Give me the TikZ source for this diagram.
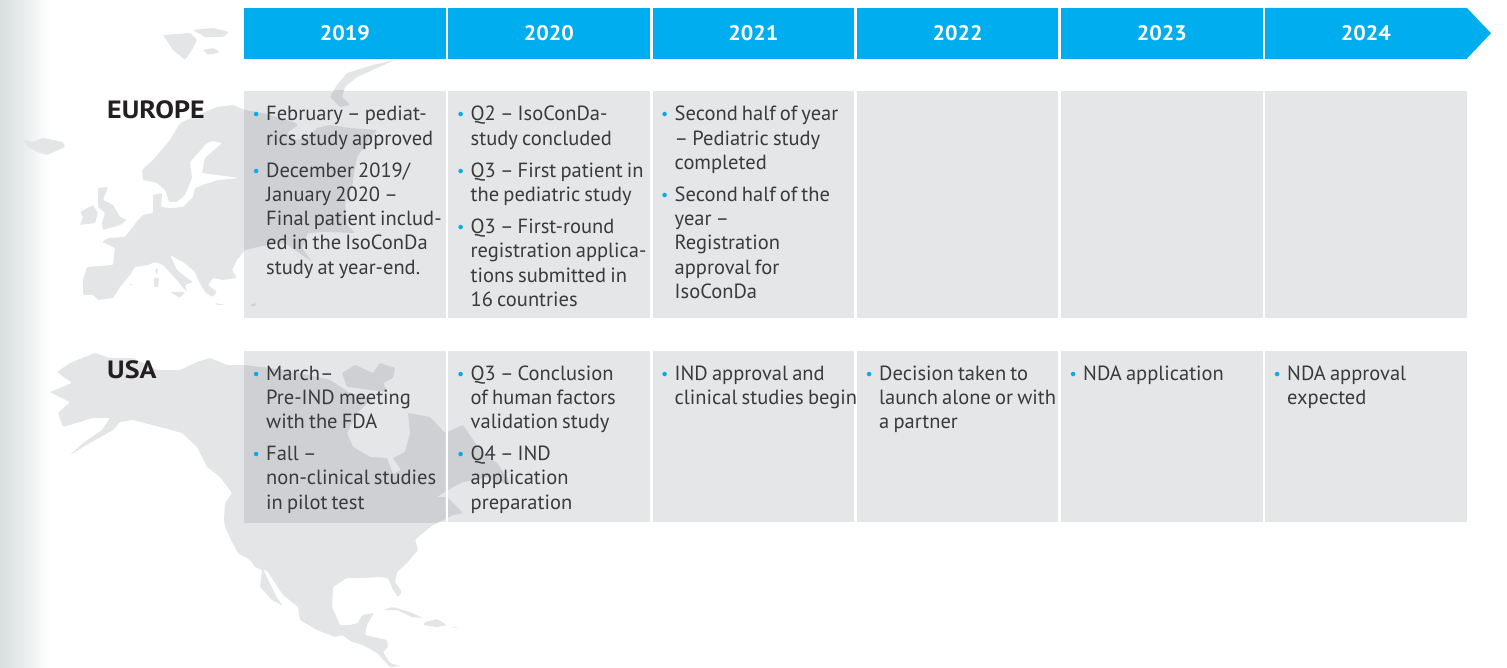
\documentclass[tikz,border=0pt]{standalone}
\usepackage{fontspec}
\setmainfont{PT Sans}[WordSpace=0.76]
\newfontfamily\regfont{PT Sans}[FakeStretch=1.12]
\newfontfamily\yearfont{PT Sans}[FakeStretch=1.05]
\definecolor{tblue}{HTML}{00AEEF}
\definecolor{cellg}{HTML}{E5E6E8}
\definecolor{mapg}{HTML}{E4E5E7}
\definecolor{mapd}{HTML}{CFD0D3}
\definecolor{ink}{HTML}{3A3A3C}
\definecolor{headk}{HTML}{231F20}
\definecolor{edgeg}{HTML}{D8DDDD}
\newcommand{\eumap}{
(143,215)--(153,213)--(153,195)--(162,193)--(161,207)--(170,208)--(183,207)--(193,197)--(195,188)--(203,185)--(218,180)--(240,178)--(217,175)--(202,173)--(205,158)--(222,143)--(213,141)--(207,143)--(190,162)--(192,178)--(185,195)--(177,202)--(169,202)--(165,190)--(157,183)--(143,180)--(142,170)--(153,160)--(170,140)--(180,123)--(198,115)--(217,107)--(233,105)--(245,110)--(263,113)--(280,118)--(293,122)--(298,125)--(287,133)--(295,140)--(307,138)--(317,128)--(330,125)--(350,128)--(377,130)--(367,143)--(357,157)--(353,180)--(352,187)--(345,203)--(347,225)--(355,233)--(327,232)--(308,233)--(302,248)--(312,262)--(295,250)--(285,243)--(262,246)--(245,250)--(237,260)--(232,270)--(237,278)--(223,280)--(213,278)--(208,285)--(217,292)--(212,297)--(205,292)--(198,280)--(195,272)--(183,262)--(170,255)--(177,270)--(187,278)--(193,282)--(185,285)--(187,292)--(183,288)--(177,280)--(163,265)--(155,262)--(148,265)--(135,267)--(130,275)--(120,287)--(113,298)--(98,300)--(93,295)--(83,295)--(83,280)--(87,267)--(113,265)--(115,248)--(102,242)--(108,238)--(125,237)--(138,220)--cycle
(23,140)--(33,142)--(43,138)--(63,142)--(65,147)--(47,155)--(37,152)--(28,147)--cycle
(163,35)--(190,33)--(197,40)--(192,50)--(185,60)--(173,50)--cycle
(193,30)--(213,28)--(229,32)--(223,37)--(205,37)--cycle
(203,50)--(213,48)--(220,52)--(208,55)--cycle
(98,188)--(108,187)--(103,200)--(113,205)--(120,217)--(127,220)--(120,225)--(103,230)--(102,223)--(105,213)--(98,207)--cycle
(80,212)--(93,205)--(98,213)--(95,223)--(80,225)--(83,217)--cycle
(155,270)--(158,268)--(157,275)--cycle
(154,278)--(159,278)--(158,287)--(154,287)--cycle
(170,292)--(185,292)--(180,298)--cycle
(215,303)--(225,305)--(217,305)--cycle
(250,305)--(257,303)--(253,307)--cycle
(130,283)--(133,285)--(131,286)--cycle
(395,60)--(373,65)--(347,73)--(337,85)--(330,97)--(340,107)--(350,105)--(342,97)--(345,87)--(357,77)--(377,68)--cycle}
\newcommand{\namap}{
(57,372)--(70,363)--(95,353)--(110,358)--(133,358)--(157,370)--(180,370)--(197,362)--(210,358)--(227,365)--(244,365)--(270,368)--(300,373)--(330,380)--(350,393)--(373,398)--(357,413)--(347,433)--(353,447)--(370,457)--(387,458)--(393,474)--(401,470)--(393,458)--(405,452)--(410,433)--(408,413)--(430,417)--(445,433)--(458,427)--(463,425)--(480,450)--(497,463)--(510,482)--(497,483)--(487,477)--(477,480)--(463,482)--(453,487)--(437,497)--(447,497)--(463,513)--(453,515)--(447,518)--(433,525)--(423,533)--(415,540)--(418,550)--(407,563)--(397,572)--(395,582)--(402,592)--(398,597)--(393,590)--(388,578)--(380,577)--(363,578)--(347,578)--(333,587)--(332,607)--(340,625)--(350,625)--(358,623)--(362,615)--(374,613)--(367,625)--(365,635)--(387,640)--(388,647)--(383,652)--(390,663)--(400,666)--(390,667)--(377,653)--(363,645)--(352,642)--(342,635)--(335,637)--(317,630)--(300,620)--(298,607)--(283,595)--(268,572)--(263,569)--(277,598)--(283,606)--(272,600)--(260,587)--(262,570)--(255,567)--(250,560)--(238,553)--(232,542)--(225,527)--(224,520)--(225,503)--(232,493)--(220,477)--(207,467)--(197,447)--(182,433)--(160,427)--(133,420)--(120,422)--(113,430)--(90,443)--(70,455)--(83,443)--(102,430)--(110,418)--(93,418)--(63,427)--(58,413)--(70,402)--(50,392)--(72,383)--cycle
(342,373)--(355,365)--(373,373)--(380,363)--(395,368)--(393,378)--(383,383)--(388,392)--(370,390)--(357,388)--(347,387)--cycle
(383,610)--(393,607)--(410,612)--(423,618)--(412,617)--(397,610)--cycle
(425,622)--(437,619)--(447,625)--(437,627)--(423,625)--cycle
(452,627)--(459,627)--(453,628)--cycle}
\tikzset{
  headbox/.style={fill=tblue,text=white,inner sep=0pt,font=\yearfont\fontsize{21}{24}\selectfont\bfseries,minimum height=50.5pt,minimum width=201.5pt,anchor=north west},
  cellbox/.style={fill=cellg,inner sep=0pt,minimum width=201.5pt,anchor=north west},
  bodytxt/.style={anchor=base west,inner sep=0pt,text=ink,font=\fontsize{20.5}{24.2}\selectfont},
  regiontxt/.style={anchor=base west,inner sep=0pt,text=headk,font=\regfont\fontsize{25}{28}\selectfont\bfseries},
  landg/.style={fill=mapg,rounded corners=1pt},
  landd/.style={fill=mapd,rounded corners=1pt},
}
\newcommand{\yr}[1]{\raisebox{-1pt}{#1}}
\newcommand{\lne}[1]{\hbox{#1}}
\newcommand{\bul}[1]{\hbox{\llap{\textcolor{tblue}{\raisebox{1pt}{\fontsize{16}{16}\selectfont\textbullet}}\hspace{6.4pt}}#1}}
\newcommand{\nbul}[1]{\vskip 8pt\bul{#1}}
\newcommand{\cellblock}[1]{\vtop{\hsize=198pt\baselineskip=24.2pt\lineskiplimit=-20pt\parskip=0pt\relax #1}}
\begin{document}
\begin{tikzpicture}[x=1pt,y=-1pt]
\useasboundingbox (0,0) rectangle (1507,668);
\shade[left color=edgeg,right color=white] (0,0) rectangle (50,668);
\fill[landg] \eumap;
\fill[landg] \namap;
% header
\fill[tblue] (1265,8)--(1467,8)--(1491,33.2)--(1467,58.5)--(1265,58.5)--cycle;
\node[headbox] (h19) at (244,8) {\yr{2019}};
\node[headbox] (h20) at (448,8) {\yr{2020}};
\node[headbox] (h21) at (652.3,8) {\yr{2021}};
\node[headbox] (h22) at (856.7,8) {\yr{2022}};
\node[headbox] (h23) at (1061,8) {\yr{2023}};
\node[headbox] (h24) at (1265,8) {\yr{2024}};
% cells
\foreach \nm/\xx in {a/244,b/448,c/652.3,d/856.7,e/1061,f/1265}{
  \node[cellbox,minimum height=227pt] (eu\nm) at (\xx,91) {};
  \node[cellbox,minimum height=171pt] (us\nm) at (\xx,351) {};
}
\fill[white] (445.5,351) rectangle (448,522);
\begin{scope}\clip (244,91) rectangle (445.5,318);\fill[landd] \eumap;\end{scope}
\begin{scope}\clip (244,351) rectangle (445.5,522);\fill[landd] \namap;\end{scope}
\begin{scope}\clip (448,351) rectangle (649.5,522);\fill[landd] \namap;\end{scope}
% region labels
\node[regiontxt] (leu) at (107,119) {EUROPE};
\node[regiontxt] (lus) at (107,378) {USA};
% europe text
\node[bodytxt] (t1) at (266,121) {\cellblock{\bul{February – pediat-}\lne{rics study approved}\nbul{December 2019/}\lne{January 2020 –}\lne{Final patient includ-}\lne{ed in the IsoConDa}\lne{study at year-end.}}};
\node[bodytxt] (t2) at (470.5,121) {\cellblock{\bul{Q2 – IsoConDa-}\lne{study concluded}\nbul{Q3 – First patient in}\lne{the pediatric study}\nbul{Q3 – First-round}\lne{registration applica-}\lne{tions submitted in}\lne{16 countries}}};
\node[bodytxt] (t3) at (674.5,121) {\cellblock{\bul{Second half of year}\lne{– Pediatric study}\lne{completed}\nbul{Second half of the}\lne{year –}\lne{Registration}\lne{approval for}\lne{IsoConDa}}};
% usa text
\node[bodytxt] (u1) at (266,380) {\cellblock{\bul{March–}\lne{Pre-IND meeting}\lne{with the FDA}\nbul{Fall –}\lne{non-clinical studies}\lne{in pilot test}}};
\node[bodytxt] (u2) at (470.5,380) {\cellblock{\bul{Q3 – Conclusion}\lne{of human factors}\lne{validation study}\nbul{Q4 – IND}\lne{application}\lne{preparation}}};
\node[bodytxt] (u3) at (674.5,380) {\cellblock{\bul{IND approval and}\lne{clinical studies begin}}};
\node[bodytxt] (u4) at (879,380) {\cellblock{\bul{Decision taken to}\lne{launch alone or with}\lne{a partner}}};
\node[bodytxt] (u5) at (1083,380) {\cellblock{\bul{NDA application}}};
\node[bodytxt] (u6) at (1287,380) {\cellblock{\bul{NDA approval}\lne{expected}}};
\end{tikzpicture}
\end{document}
